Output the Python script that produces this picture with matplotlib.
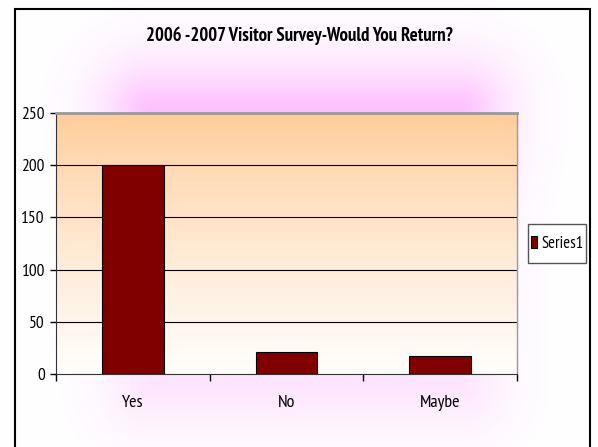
import numpy as np
import matplotlib
matplotlib.use("Agg")
import matplotlib.pyplot as plt
from matplotlib.patches import Rectangle

categories = ["Yes", "No", "Maybe"]
series1 = [200, 21, 17]
yticks = [0, 50, 100, 150, 200, 250]

W, H = 598, 447
plt.rcParams['font.family'] = ['PT Sans Narrow', 'DejaVu Sans']

fig = plt.figure(figsize=(W / 100, H / 100), dpi=100)

# chart area: white with a soft pink glow around the plot area
bg = fig.add_axes([0, 0, 1, 1], zorder=0)
xx, yy = np.meshgrid(np.arange(W) + 0.5, np.arange(H) + 0.5)
x0, x1, y0, y1 = 150, 460, 112, 385
dx = np.maximum(np.maximum(x0 - xx, xx - x1), 0)
dy = np.maximum(np.maximum(y0 - yy, yy - y1), 0)
d = np.hypot(dx, dy)
glow = np.exp(-(d / 48.0) ** 1.5)
glow *= 0.10 + 0.16 / (1 + np.exp((yy - 170) / 25.0))
img = np.ones((H, W, 3))
img[..., 1] -= glow
img[..., 0] -= glow * 0.02
bg.imshow(img, extent=(0, W, H, 0), aspect='auto')
bg.set_xlim(0, W)
bg.set_ylim(H, 0)
bg.axis('off')

# outer frame
fig.patches.append(Rectangle((15 / W, -0.01), (590 - 15) / W, 1 - 9 / H + 0.01,
                             transform=fig.transFigure, fill=False,
                             edgecolor='black', linewidth=1.5, zorder=1))

ax = fig.add_axes([56 / W, 1 - 374 / H, (517 - 56) / W, (374 - 113) / H], zorder=2)

# plot area: orange fading to white
t = np.linspace(0, 1, 256)
t = t ** 0.8
top = np.array([255, 203, 152]) / 255
bot = np.array([255, 254, 252]) / 255
gimg = top[None, :] * (1 - t[:, None]) + bot[None, :] * t[:, None]
gimg = np.repeat(gimg[:, None, :], 2, axis=1)
ax.imshow(gimg, extent=(-0.5, 2.5, 0, 250), aspect='auto', zorder=0)

x = np.arange(len(categories))
ax.bar(x, series1, width=0.4, color='#800000', edgecolor='black', linewidth=0.8,
       zorder=3, label='Series1')

ax.set_xlim(-0.5, 2.5)
ax.set_ylim(0, 250)
ax.set_yticks(yticks)
ax.tick_params(axis='y', direction='out', length=4, width=1, pad=4, labelsize=12.5)
ax.set_xticks(x)
ax.set_xticklabels(categories)
ax.tick_params(axis='x', which='major', length=0, pad=15, labelsize=13)
ax.set_xticks([-0.5, 0.5, 1.5, 2.5], minor=True)
ax.tick_params(axis='x', which='minor', direction='out', length=5, width=1)

for yv in yticks[1:-1]:
    ax.axhline(yv, color='black', linewidth=0.8, zorder=1)

ax.spines['top'].set_color('#999999')
ax.spines['top'].set_linewidth(2)
ax.spines['right'].set_color('#999999')
ax.spines['right'].set_linewidth(1)
ax.spines['left'].set_color('#333333')
ax.spines['bottom'].set_color('#333333')

fig.text(0.5, 1 - 36 / H, "2006 -2007 Visitor Survey-Would You Return?",
         ha='center', va='center', fontsize=13.5, fontweight='bold', zorder=3)

# legend box drawn separately so its size matches
fig.patches.append(Rectangle((528 / W, 1 - 263 / H), (586 - 528) / W, 39 / H,
                             transform=fig.transFigure, facecolor='white',
                             edgecolor='#555555', linewidth=1, zorder=3))
leg = fig.legend(loc='center', bbox_to_anchor=(557 / W, 1 - 243.5 / H),
                 fontsize=12, handlelength=0.4, handleheight=0.75,
                 handletextpad=0.25, borderpad=0, borderaxespad=0,
                 frameon=False)
leg.set_zorder(4)

fig.savefig("out.png", dpi=100)
